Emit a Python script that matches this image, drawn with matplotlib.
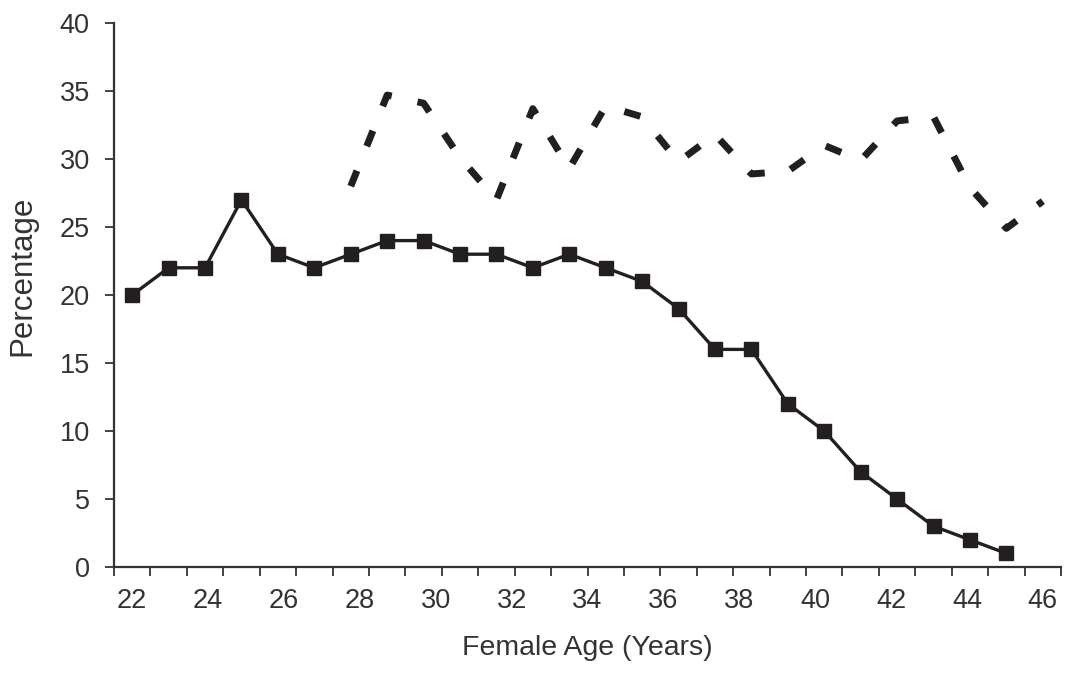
import numpy as np
import matplotlib
matplotlib.use("Agg")
import matplotlib.pyplot as plt

# ---- data ----
solid_ages = list(range(22, 47))
solid_values = [20, 22, 22, 27, 23, 22, 23, 24, 24, 23, 23, 22, 23, 22, 21,
                19, 16, 16, 12, 10, 7, 5, 3, 2, 1]

dashed_ages = list(range(28, 48))
dashed_values = [28.0, 34.7, 34.1, 30.1, 27.0, 33.7, 29.3, 33.9, 33.1, 29.8,
                 31.8, 28.9, 29.1, 31.0, 29.9, 32.8, 33.1, 27.9, 24.9, 26.9]

tick_labels = [str(a) for a in range(22, 47, 2)]
y_ticks = [0, 5, 10, 15, 20, 25, 30, 35, 40]

first_age = 22
n_categories = 26

# ---- figure ----
W, H, DPI = 1079, 677, 100
plt.rcParams['font.family'] = ['Liberation Sans', 'DejaVu Sans']
fig = plt.figure(figsize=(W / DPI, H / DPI), dpi=DPI)
ax = fig.add_axes([114 / W, 1 - 567 / H, (1061 - 114) / W, (567 - 23) / H])

TXT = '#333333'
INK = '#231f20'
FAM = ['Liberation Sans', 'DejaVu Sans']

xs_solid = np.array(solid_ages) - first_age
xs_dash = np.array(dashed_ages) - first_age

ax.plot(xs_dash, dashed_values, color=INK, lw=5.0,
        linestyle=(0, (2.4, 3.8)), dash_capstyle='butt', solid_joinstyle='miter',
        zorder=2)
ax.plot(xs_solid, solid_values, color=INK, lw=2.4, marker='s', ms=10.3,
        markerfacecolor=INK, markeredgecolor=INK, zorder=3)

ax.set_xlim(-0.5, n_categories - 0.5)
ax.set_ylim(0, 40)

# category boundary ticks (no labels)
ax.xaxis.remove_overlapping_locs = False
ax.set_xticks(np.arange(-0.5, n_categories, 1.0))
ax.set_xticklabels([])
ax.tick_params(axis='x', which='major', length=6.5, width=1.3, color='#333333',
               direction='out')
# labels (minor, no tick marks)
label_pos = np.linspace(0, n_categories - 1, len(tick_labels))
ax.set_xticks(label_pos, minor=True)
ax.set_xticklabels(tick_labels, minor=True, fontsize=19.5, color=TXT, family=FAM)
ax.tick_params(axis='x', which='minor', length=0, pad=15)

ax.set_yticks(y_ticks)
ax.set_yticklabels([str(v) for v in y_ticks], fontsize=19.5, color=TXT,
                   family=FAM)
ax.tick_params(axis='y', length=6.5, width=1.3, color='#333333', pad=11)

for s in ['top', 'right']:
    ax.spines[s].set_visible(False)
for s in ['left', 'bottom']:
    ax.spines[s].set_linewidth(1.6)
    ax.spines[s].set_color('#333333')

fig.text(587 / W, 1 - 648 / H, 'Female Age (Years)', ha='center', va='center',
         fontsize=20.5, color=TXT, family=FAM)
fig.text(22 / W, 1 - 276 / H, 'Percentage', ha='center', va='center',
         rotation=90, fontsize=22.5, color=TXT, family=FAM)

fig.savefig('out.png', dpi=DPI)
